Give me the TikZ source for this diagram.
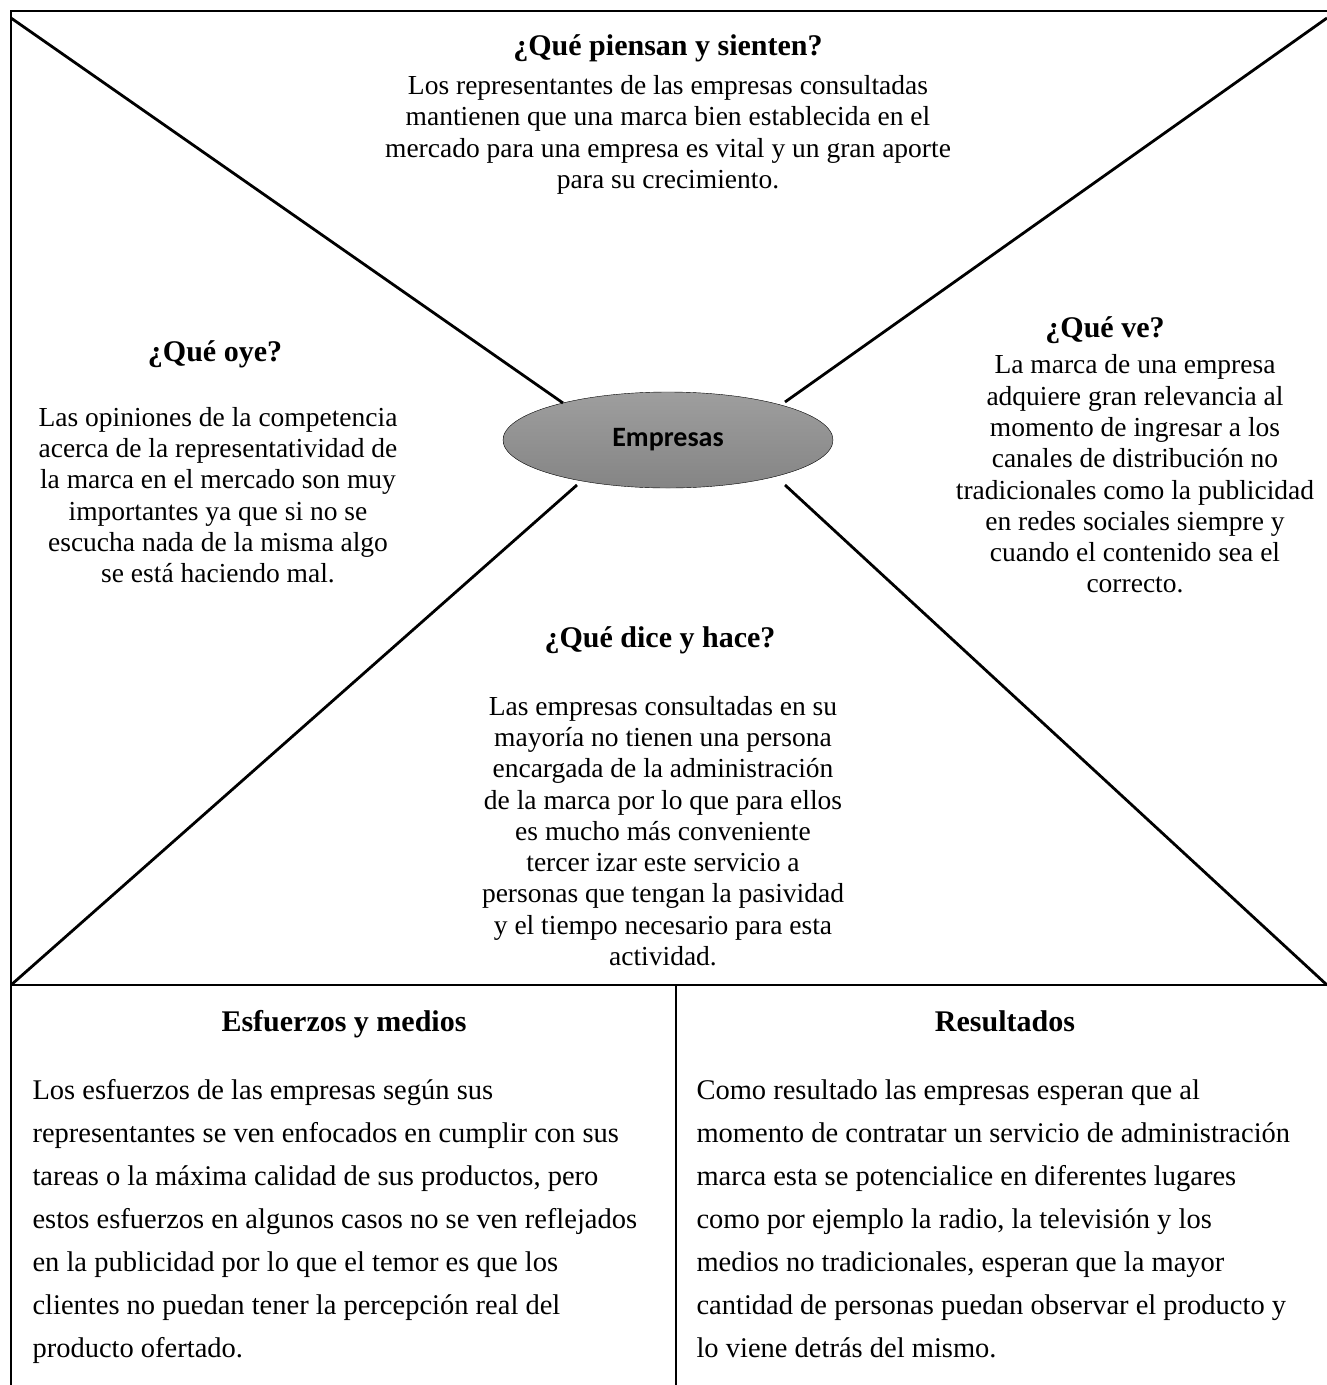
\documentclass[tikz,border=0pt]{standalone}
\usepackage{fontspec}
\setmainfont{Liberation Serif}
\newfontfamily\calibri{Carlito}
\usetikzlibrary{shapes.geometric}

\begin{document}
\begin{tikzpicture}[x=1pt,y=-1pt,
  marco/.style={line width=1.6pt},
  diag/.style={line width=2.8pt},
  titulo/.style={font=\bfseries\fontsize{30}{36}\selectfont,align=center},
  cuerpo/.style={font=\fontsize{27.5}{31.3}\selectfont,align=center},
  celda/.style={font=\fontsize{28.5}{43}\selectfont,align=left,anchor=north west}]
  \useasboundingbox (0,0) rectangle (1327,1385);

  \coordinate (TL) at (11,11);
  \coordinate (TR) at (1345,11);
  \coordinate (ML) at (11,985);
  \coordinate (MR) at (1345,985);
  \coordinate (BL) at (11,1400);
  \coordinate (D1) at (676,985);
  \coordinate (D2) at (676,1400);

  % frame and table
  \draw[marco] (BL) -- (TL) -- (TR);
  \draw[marco] (ML) -- (MR);
  \draw[marco] (D1) -- (D2);

  % centre
  \node[ellipse,draw,thin,minimum width=330,minimum height=96,
    top color=black!38,bottom color=black!48,
    font=\calibri\bfseries\fontsize{28}{32}\selectfont] (empresas) at (668,440) {Empresas};

  \draw[diag] (11,18) -- (563,403);
  \draw[diag] (1327,18) -- (785,402);
  \draw[diag] (ML) -- (577,485);
  \draw[diag] (785,485) -- (1327,985);

  % quadrants
  \node[titulo] (piensan) at (668,48) {¿Qué piensan y sienten?};
  \node[cuerpo] (piensanTxt) at (668,135) {Los representantes de las empresas consultadas\\
    mantienen que una marca bien establecida en el\\
    mercado para una empresa es vital y un gran aporte\\
    para su crecimiento.};

  \node[titulo] (oye) at (215,354) {¿Qué oye?};
  \node[cuerpo] (oyeTxt) at (218,495) {Las opiniones de la competencia\\
    acerca de la representatividad de\\
    la marca en el mercado son muy\\
    importantes ya que si no se\\
    escucha nada de la misma algo\\
    se está haciendo mal.};

  \node[titulo] (ve) at (1105,330) {¿Qué ve?};
  \node[cuerpo] (veTxt) at (1135,474) {La marca de una empresa\\
    adquiere gran relevancia al\\
    momento de ingresar a los\\
    canales de distribución no\\
    tradicionales como la publicidad\\
    en redes sociales siempre y\\
    cuando el contenido sea el\\
    correcto.};

  \node[titulo] (dice) at (660,640) {¿Qué dice y hace?};
  \node[cuerpo] (diceTxt) at (663,831) {Las empresas consultadas en su\\
    mayoría no tienen una persona\\
    encargada de la administración\\
    de la marca por lo que para ellos\\
    es mucho más conveniente\\
    tercer izar este servicio a\\
    personas que tengan la pasividad\\
    y el tiempo necesario para esta\\
    actividad.};

  % bottom cells
  \node[titulo,anchor=base] (esfuerzos) at (344,1031) {Esfuerzos y medios};
  \node[celda] (esfuerzosTxt) at (29,1076) {Los esfuerzos de las empresas según sus\\
    representantes se ven enfocados en cumplir con sus\\
    tareas o la máxima calidad de sus productos, pero\\
    estos esfuerzos en algunos casos no se ven reflejados\\
    en la publicidad por lo que el temor es que los\\
    clientes no puedan tener la percepción real del\\
    producto ofertado.};

  \node[titulo,anchor=base] (resultados) at (1005,1031) {Resultados};
  \node[celda] (resultadosTxt) at (693,1076) {Como resultado las empresas esperan que al\\
    momento de contratar un servicio de administración\\
    marca esta se potencialice en diferentes lugares\\
    como por ejemplo la radio, la televisión y los\\
    medios no tradicionales, esperan que la mayor\\
    cantidad de personas puedan observar el producto y\\
    lo viene detrás del mismo.};
\end{tikzpicture}
\end{document}
